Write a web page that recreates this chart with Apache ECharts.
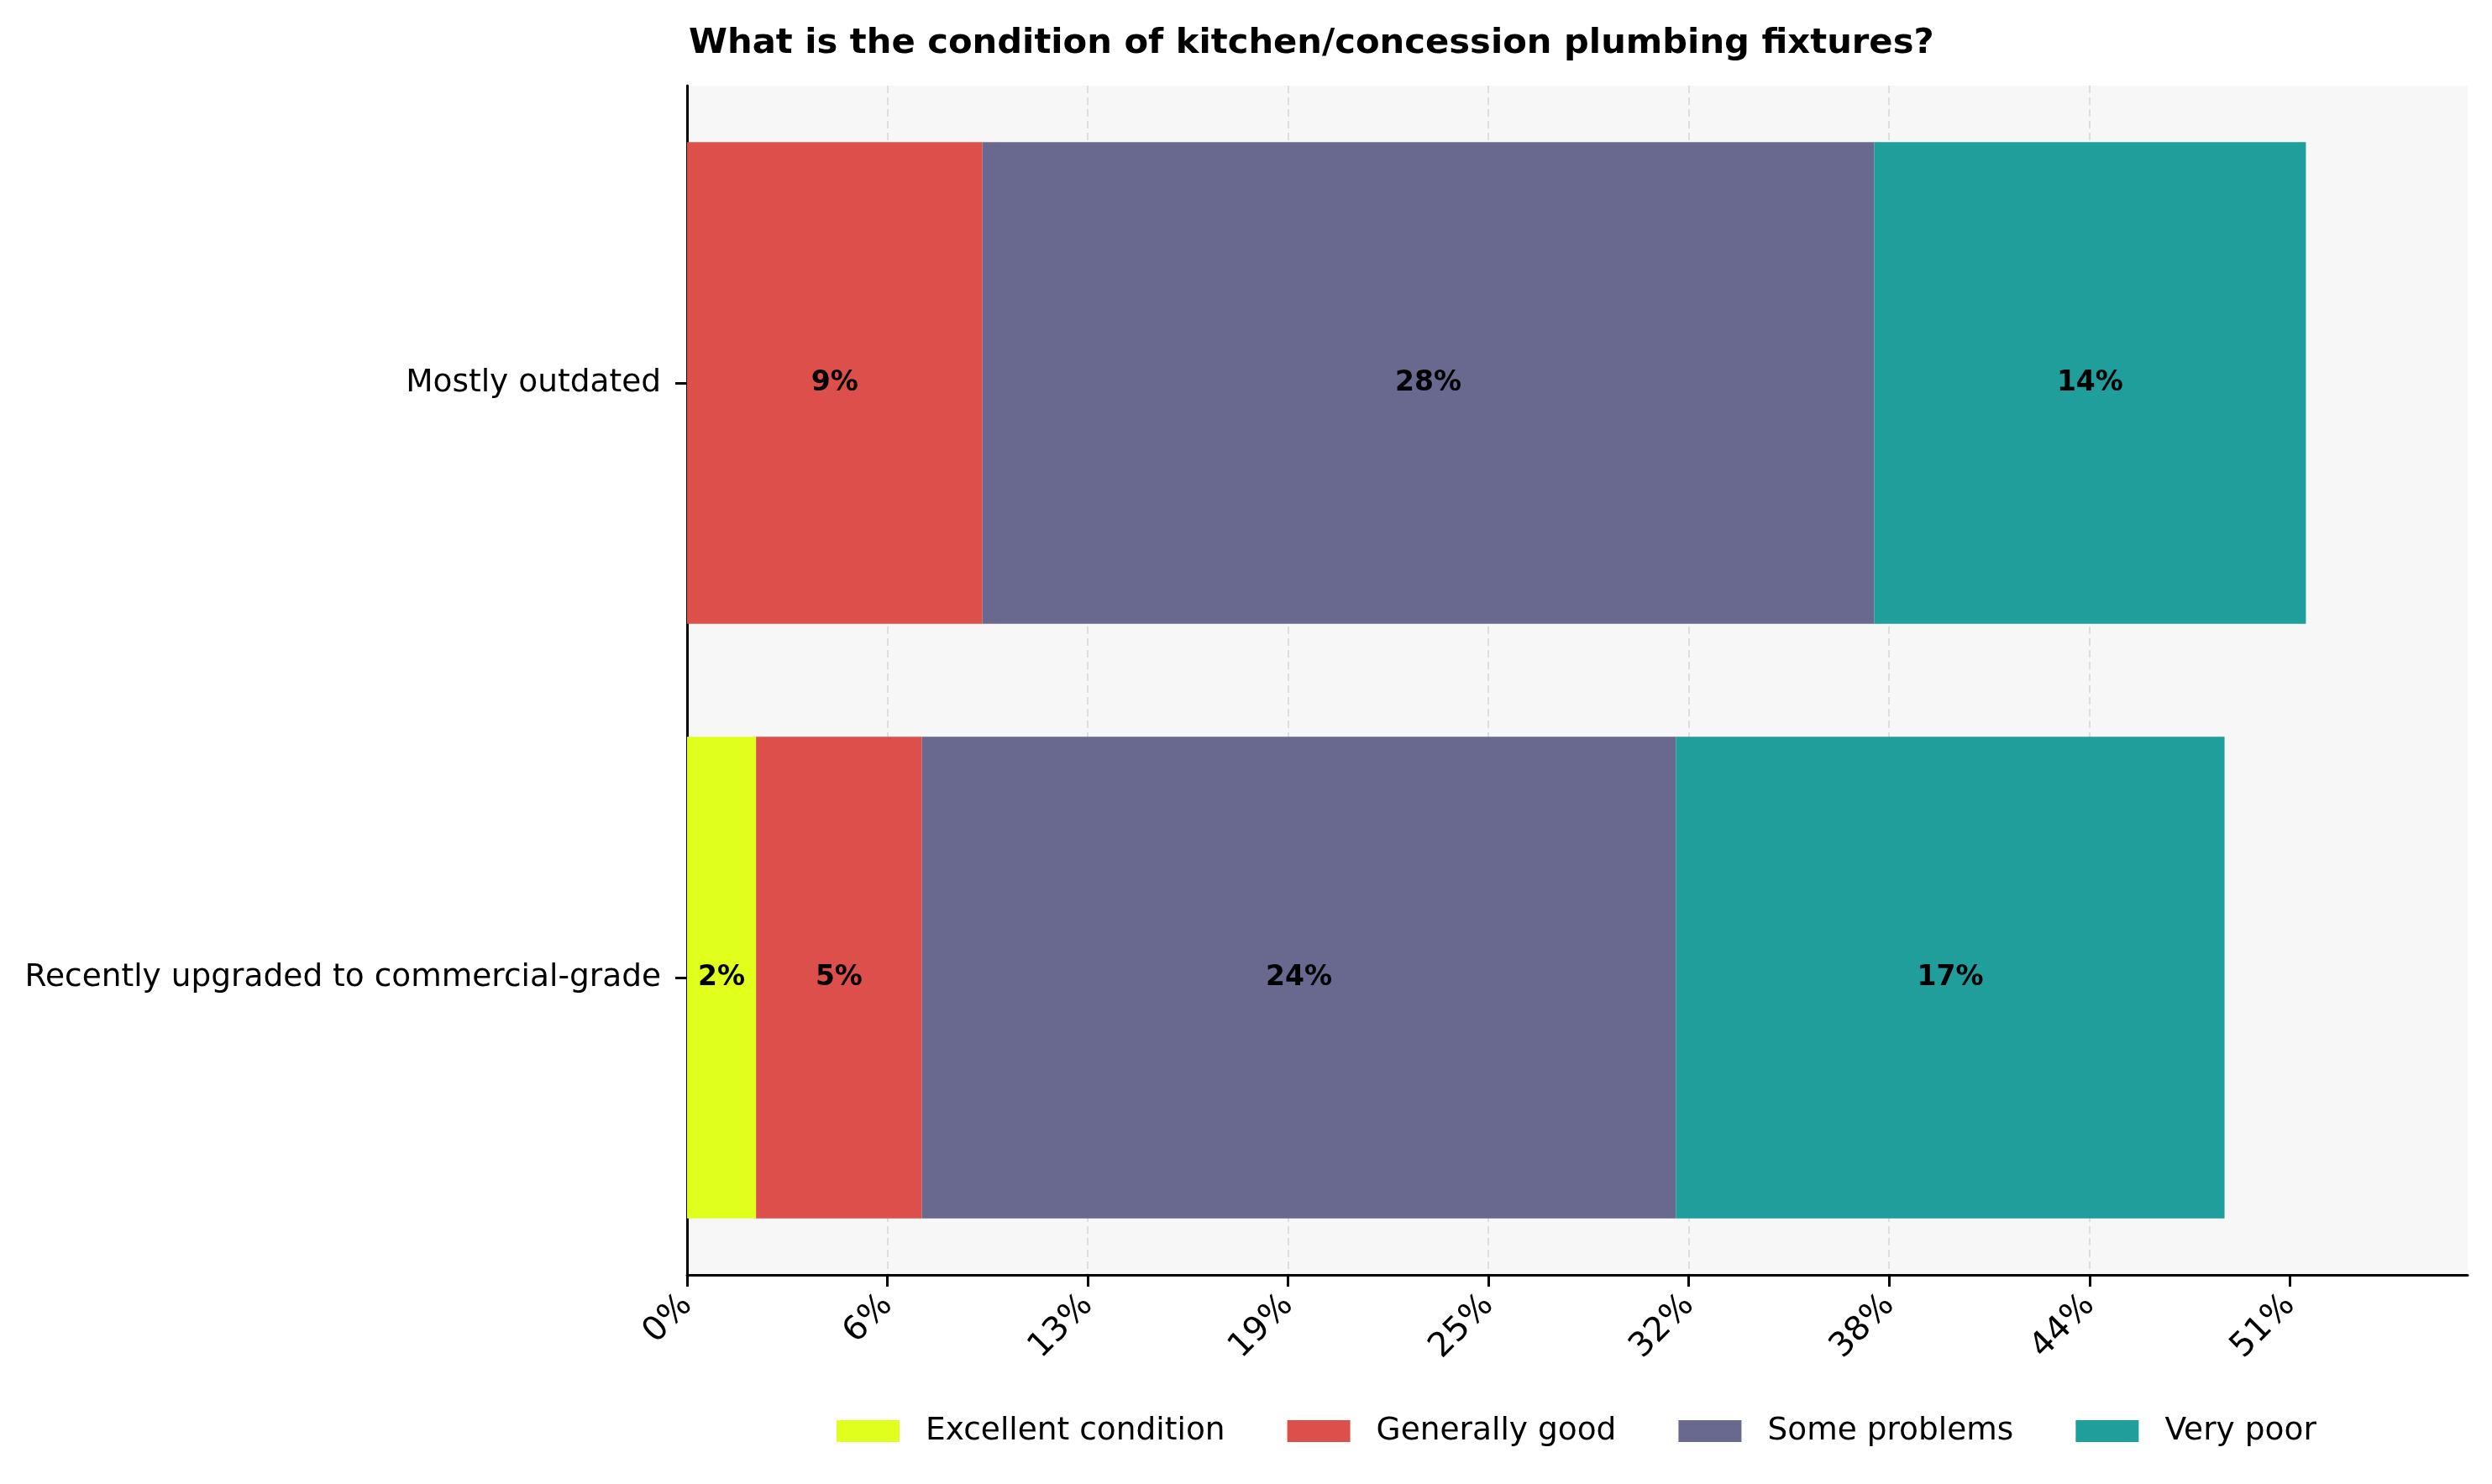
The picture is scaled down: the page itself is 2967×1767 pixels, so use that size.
<!DOCTYPE html>
<html>
<head>
<meta charset="utf-8">
<script src="https://cdn.jsdelivr.net/npm/echarts@6/dist/echarts.min.js"></script>
<style>
  html, body { margin: 0; padding: 0; background: #fff; }
  #main { width: 2967px; height: 1767px; }
</style>
</head>
<body>
<div id="main"></div>
<script>
var chartDom = document.getElementById('main');
var myChart = echarts.init(chartDom);
var option;

// categories, top to bottom
var categories = ['Mostly outdated', 'Recently upgraded to commercial-grade'];
var seriesNames = ['Excellent condition', 'Generally good', 'Some problems', 'Very poor'];
var colors = ['#e1ff1c', '#dd4f4a', '#69698f', '#1f9e9c'];

// percent of respondents per category
var excellent = [0, 2.18];
var generallyGood = [9.33, 5.24];
var someProblems = [28.17, 23.82];
var veryPoor = [13.64, 17.33];

// x ticks as drawn in the original
var tickValues = [0, 6.329, 12.658, 18.987, 25.316, 31.646, 37.975, 44.304, 50.633];
var tickLabels = ['0%', '6%', '13%', '19%', '25%', '32%', '38%', '44%', '51%'];
var xMax = 56.25;

var font = 'DejaVu Sans';
var allData = [excellent, generallyGood, someProblems, veryPoor];

var series = seriesNames.map(function (name, i) {
  return {
    name: name,
    type: 'bar',
    stack: 'total',
    barWidth: '81%',
    itemStyle: { color: colors[i] },
    label: {
      show: true,
      position: 'inside',
      color: '#000',
      fontFamily: font,
      fontWeight: 'bold',
      fontSize: 33,
      formatter: function (p) {
        return p.value > 0 ? Math.round(p.value) + '%' : '';
      }
    },
    emphasis: { disabled: true },
    data: allData[i]
  };
});

option = {
  animation: false,
  backgroundColor: '#ffffff',
  title: {
    text: 'What is the condition of kitchen/concession plumbing fixtures?',
    left: 815,
    top: 26,
    textStyle: { fontFamily: font, fontWeight: 'bold', fontSize: 41.7, color: '#000' }
  },
  legend: {
    data: seriesNames,
    left: 991,
    top: 1680,
    icon: 'rect',
    itemWidth: 75,
    itemHeight: 26,
    itemGap: 74,
    textStyle: { fontFamily: font, fontSize: 37.5, color: '#000', padding: [0, 0, 0, 26] }
  },
  grid: {
    left: 818,
    right: 29,
    top: 102,
    bottom: 249,
    show: true,
    backgroundColor: '#f7f7f7',
    borderWidth: 0
  },
  xAxis: {
    type: 'value',
    min: 0,
    max: xMax,
    axisLine: { show: true, lineStyle: { color: '#000', width: 3 } },
    axisTick: { show: true, length: 14, lineStyle: { color: '#000', width: 3 }, customValues: tickValues },
    axisLabel: {
      customValues: tickValues,
      rotate: 45,
      margin: 30,
      fontFamily: font,
      fontSize: 40,
      color: '#000',
      formatter: function (v) {
        var idx = tickValues.indexOf(v);
        return idx >= 0 ? tickLabels[idx] : '';
      }
    },
    splitLine: {
      show: true,
      showMaxLine: false,
      lineStyle: { color: '#dedede', width: 2, type: [9, 5] }
    }
  },
  yAxis: {
    type: 'category',
    inverse: true,
    data: categories,
    axisLine: { show: true, lineStyle: { color: '#000', width: 3 } },
    axisTick: { show: true, length: 14, alignWithLabel: true, lineStyle: { color: '#000', width: 3 } },
    axisLabel: { fontFamily: font, fontSize: 37.5, color: '#000', margin: 31 },
    splitLine: { show: false }
  },
  series: series
};

option && myChart.setOption(option);
</script>
</body>
</html>
